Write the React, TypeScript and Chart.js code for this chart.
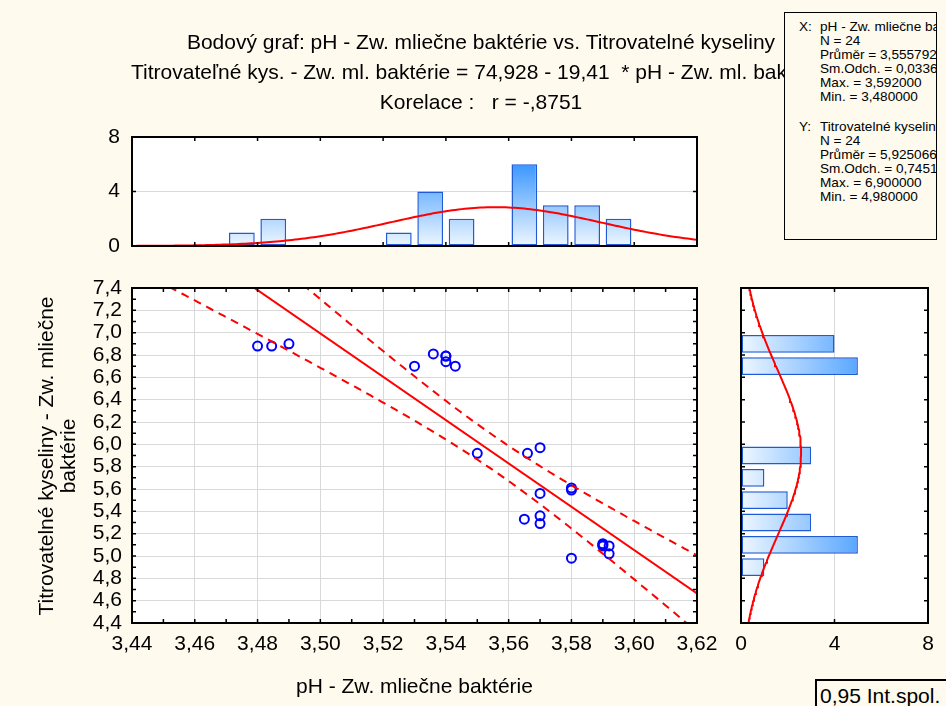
import React, { useEffect, useRef } from "react";
import { Chart, registerables } from "chart.js";

Chart.register(...registerables);

// ---------------- data ----------------
const phValues = [
  3.48, 3.4845, 3.49, 3.53, 3.536, 3.54, 3.54, 3.54, 3.543,
  3.55, 3.566, 3.57, 3.57, 3.565, 3.57, 3.57,
  3.58, 3.58, 3.58, 3.59, 3.59, 3.59, 3.592, 3.592,
];
const acidValues = [
  6.88, 6.88, 6.9, 6.7, 6.81, 6.79, 6.79, 6.74, 6.7,
  5.92, 5.92, 5.97, 5.56, 5.33, 5.36, 5.29,
  5.61, 5.59, 4.98, 5.11, 5.1, 5.09, 5.09, 5.02,
];
const phBinCenters = [3.475, 3.485, 3.525, 3.535, 3.545, 3.565, 3.575, 3.585, 3.595];
const phBinCounts = [1, 2, 1, 4, 2, 6, 3, 3, 2];
const acidBinCenters = [6.9, 6.7, 5.9, 5.7, 5.5, 5.3, 5.1, 4.9];
const acidBinCounts = [4, 5, 3, 1, 2, 3, 5, 1];

const phTicks = [3.44, 3.46, 3.48, 3.5, 3.52, 3.54, 3.56, 3.58, 3.6, 3.62];
const acidTicks = [4.4, 4.6, 4.8, 5.0, 5.2, 5.4, 5.6, 5.8, 6.0, 6.2, 6.4, 6.6, 6.8, 7.0, 7.2, 7.4];
const countTicks = [0, 4, 8];

// statistics printed in the chart
const N = 24;
const phMean = 3.555792;
const phSd = 0.0336;
const acidMean = 5.925066;
const acidSd = 0.7451;
const intercept = 74.928;
const slope = -19.41;
const corr = -0.8751;
const phBinWidth = 0.01;
const acidBinWidth = 0.2;
const tCrit = 2.074; // t(0.975, 22)

const titleLines = [
  "Bodový graf: pH - Zw. mliečne baktérie vs. Titrovatelné kyseliny",
  "Titrovateľné kys. - Zw. ml. baktérie = 74,928 - 19,41  * pH - Zw. ml. baktérie",
  "Korelace :   r = -,8751",
];
const xStatLines = ["pH - Zw. mliečne baktérie", "N = 24", "Průměr = 3,555792", "Sm.Odch. = 0,0336", "Max. = 3,592000", "Min. = 3,480000"];
const yStatLines = ["Titrovatelné kyseliny - Zw. mliečne baktérie", "N = 24", "Průměr = 5,925066", "Sm.Odch. = 0,7451", "Max. = 6,900000", "Min. = 4,980000"];
const xAxisTitle = "pH - Zw. mliečne baktérie";
const yAxisTitle = ["Titrovatelné kyseliny - Zw. mliečne", "baktérie"];
const legendText = "0,95 Int.spol.";

// ---------------- fitted curves ----------------
const normalCount = (v: number, mean: number, sd: number, binW: number) =>
  ((N * binW) / (sd * Math.sqrt(2 * Math.PI))) * Math.exp(-0.5 * ((v - mean) / sd) ** 2);

const phGrid: number[] = [];
for (let i = 0; i <= 180; i++) phGrid.push(3.44 + i * 0.001);
const acidGrid: number[] = [];
for (let i = 0; i <= 150; i++) acidGrid.push(4.4 + i * 0.02);

const Sxx = (N - 1) * phSd * phSd;
const sRes = acidSd * Math.sqrt(((1 - corr * corr) * (N - 1)) / (N - 2));
const fit = (x: number) => intercept + slope * x;
const band = (x: number, s: number) =>
  fit(x) + s * tCrit * sRes * Math.sqrt(1 / N + ((x - phMean) * (x - phMean)) / Sxx);

// ---------------- styling ----------------
const W = 946;
const H = 706;
const BG = "#fffaee";
const FONT = "'Liberation Sans', Arial, sans-serif";
const RED = "#ff0000";
const GRID = "#d9d9d9";
const BAR_BORDER = "#1f5bd6";
const tickFont = { family: FONT, size: 21 };

const minorX: number[] = [];
for (let i = 0; i <= 18; i++) minorX.push(3.44 + i * 0.01);
const minorY: number[] = [];
for (let i = 0; i <= 30; i++) minorY.push(4.4 + i * 0.1);

function framePlugin(id: string, xt: number[], yt: number[], len: number) {
  return {
    id,
    beforeDraw(chart: any) {
      const { ctx, chartArea: a } = chart;
      ctx.save();
      ctx.fillStyle = "#ffffff";
      ctx.fillRect(a.left, a.top, a.right - a.left, a.bottom - a.top);
      ctx.restore();
    },
    afterDraw(chart: any) {
      const { ctx, chartArea: a, scales } = chart;
      ctx.save();
      ctx.strokeStyle = "#000";
      ctx.lineWidth = 1.5;
      ctx.beginPath();
      for (const v of xt) {
        const p = scales.x.getPixelForValue(v);
        ctx.moveTo(p, a.bottom);
        ctx.lineTo(p, a.bottom - len);
        ctx.moveTo(p, a.top);
        ctx.lineTo(p, a.top + len);
      }
      for (const v of yt) {
        const p = scales.y.getPixelForValue(v);
        ctx.moveTo(a.left, p);
        ctx.lineTo(a.left + len, p);
        ctx.moveTo(a.right, p);
        ctx.lineTo(a.right - len, p);
      }
      ctx.stroke();
      ctx.lineWidth = 2;
      ctx.strokeRect(a.left, a.top, a.right - a.left, a.bottom - a.top);
      ctx.restore();
    },
  };
}

function gradient(vertical: boolean) {
  return (c: any) => {
    const a = c.chart.chartArea;
    if (!a) return "#9ccfff";
    const g = vertical
      ? c.chart.ctx.createLinearGradient(0, a.bottom, 0, a.top)
      : c.chart.ctx.createLinearGradient(a.left, 0, a.right, 0);
    g.addColorStop(0, "#eef7ff");
    g.addColorStop(1, "#0077ff");
    return g;
  };
}

const fmt = (d: number) => (v: any) => Number(v).toFixed(d).replace(".", ",");
const gridAt4 = (c: any) => (c.tick && c.tick.value === 4 ? GRID : "rgba(0,0,0,0)");

export default function App() {
  const scatterRef = useRef<HTMLCanvasElement>(null);
  const topRef = useRef<HTMLCanvasElement>(null);
  const rightRef = useRef<HTMLCanvasElement>(null);

  useEffect(() => {
    const base = {
      responsive: false,
      animation: false as const,
      devicePixelRatio: 1,
      events: [] as any[],
      plugins: { legend: { display: false }, tooltip: { enabled: false } },
    };

    // ---- main scatter ----
    const scatter = new Chart(scatterRef.current!, {
      type: "scatter",
      data: {
        datasets: [
          {
            type: "line",
            data: [3.44, 3.62].map((x) => ({ x, y: fit(x) })),
            borderColor: RED,
            borderWidth: 2,
            pointRadius: 0,
            order: 0,
          } as any,
          {
            type: "line",
            data: phGrid.map((x) => ({ x, y: band(x, 1) })),
            borderColor: RED,
            borderWidth: 2,
            borderDash: [8, 6],
            pointRadius: 0,
            order: 0,
          },
          {
            type: "line",
            data: phGrid.map((x) => ({ x, y: band(x, -1) })),
            borderColor: RED,
            borderWidth: 2,
            borderDash: [8, 6],
            pointRadius: 0,
            order: 0,
          },
          {
            type: "scatter",
            data: phValues.map((x, i) => ({ x, y: acidValues[i] })),
            pointRadius: 4.5,
            borderWidth: 2,
            borderColor: "#0000ff",
            backgroundColor: "rgba(0,0,0,0)",
            order: 1,
          },
        ],
      },
      options: {
        ...base,
        layout: { padding: { left: 0, top: 288, right: W - 697, bottom: 43 } },
        scales: {
          x: {
            type: "linear",
            min: 3.44,
            max: 3.62,
            afterBuildTicks: (s: any) => {
              s.ticks = phTicks.map((v) => ({ value: v }));
            },
            afterFit: (s: any) => {
              s.height = 40;
            },
            ticks: { font: tickFont, color: "#000", padding: 9, autoSkip: false, maxRotation: 0, callback: fmt(2) },
            grid: { color: GRID, drawTicks: false, lineWidth: 1 },
            border: { display: false },
          },
          y: {
            type: "linear",
            min: 4.4,
            max: 7.4,
            afterBuildTicks: (s: any) => {
              s.ticks = acidTicks.map((v) => ({ value: v }));
            },
            afterFit: (s: any) => {
              s.width = 132;
            },
            ticks: { font: tickFont, color: "#000", padding: 10, autoSkip: false, callback: fmt(1) },
            grid: { color: GRID, drawTicks: false, lineWidth: 1 },
            border: { display: false },
          },
        },
      } as any,
      plugins: [framePlugin("frameScatter", minorX, minorY, 4)],
    });

    // ---- top histogram ----
    const top = new Chart(topRef.current!, {
      type: "bar",
      data: {
        datasets: [
          {
            type: "line",
            data: phGrid.map((x) => ({ x, y: normalCount(x, phMean, phSd, phBinWidth) })),
            borderColor: RED,
            borderWidth: 2,
            pointRadius: 0,
            order: 0,
          } as any,
          {
            type: "bar",
            data: phBinCenters.map((c, i) => ({ x: c, y: phBinCounts[i] })),
            backgroundColor: gradient(true),
            borderColor: BAR_BORDER,
            borderWidth: 1.5,
            borderSkipped: false,
            barPercentage: 0.82,
            categoryPercentage: 1,
            order: 1,
          },
        ],
      },
      options: {
        ...base,
        layout: { padding: { left: 0, top: 137, right: W - 697, bottom: H - 246 } },
        scales: {
          x: { type: "linear", min: 3.44, max: 3.62, offset: false, display: false },
          y: {
            type: "linear",
            min: 0,
            max: 8,
            afterBuildTicks: (s: any) => {
              s.ticks = countTicks.map((v) => ({ value: v }));
            },
            afterFit: (s: any) => {
              s.width = 132;
            },
            ticks: { font: tickFont, color: "#000", padding: 12, autoSkip: false },
            grid: { color: gridAt4, drawTicks: false },
            border: { display: false },
          },
        },
      } as any,
      plugins: [framePlugin("frameTop", phTicks, countTicks, 4)],
    });

    // ---- right histogram ----
    const right = new Chart(rightRef.current!, {
      type: "bar",
      data: {
        datasets: [
          {
            type: "line",
            indexAxis: "y",
            data: acidGrid.map((y) => ({ x: normalCount(y, acidMean, acidSd, acidBinWidth), y })),
            borderColor: RED,
            borderWidth: 2,
            pointRadius: 0,
            order: 0,
          } as any,
          {
            type: "bar",
            data: acidBinCenters.map((c, i) => ({ x: acidBinCounts[i], y: c })),
            backgroundColor: gradient(false),
            borderColor: BAR_BORDER,
            borderWidth: 1.5,
            borderSkipped: false,
            barPercentage: 0.8,
            categoryPercentage: 1,
            order: 1,
          },
        ],
      },
      options: {
        ...base,
        indexAxis: "y",
        layout: { padding: { left: 741, top: 288, right: W - 928, bottom: 43 } },
        scales: {
          x: {
            type: "linear",
            min: 0,
            max: 8,
            afterBuildTicks: (s: any) => {
              s.ticks = countTicks.map((v) => ({ value: v }));
            },
            afterFit: (s: any) => {
              s.height = 40;
            },
            ticks: { font: tickFont, color: "#000", padding: 9, autoSkip: false, maxRotation: 0 },
            grid: { color: gridAt4, drawTicks: false },
            border: { display: false },
          },
          y: { type: "linear", min: 4.4, max: 7.4, offset: false, display: false },
        },
      } as any,
      plugins: [framePlugin("frameRight", countTicks, acidTicks, 4)],
    });

    return () => {
      scatter.destroy();
      top.destroy();
      right.destroy();
    };
  }, []);

  const canvasStyle: React.CSSProperties = { position: "absolute", left: 0, top: 0 };
  const txt = (extra: React.CSSProperties): React.CSSProperties => ({
    position: "absolute",
    fontSize: 21,
    lineHeight: "21px",
    whiteSpace: "pre",
    ...extra,
  });
  const statStyle = (topPx: number, leftPx: number): React.CSSProperties => ({
    position: "absolute",
    left: leftPx,
    top: topPx,
    fontSize: 13.6,
    lineHeight: "14px",
    whiteSpace: "pre",
  });

  return (
    <div
      style={{
        position: "fixed",
        left: 0,
        top: 0,
        width: W,
        height: H,
        background: BG,
        overflow: "hidden",
        fontFamily: FONT,
        color: "#000",
      }}
    >
      <canvas ref={topRef} width={W} height={H} style={canvasStyle} />
      <canvas ref={rightRef} width={W} height={H} style={canvasStyle} />
      <canvas ref={scatterRef} width={W} height={H} style={canvasStyle} />

      <div style={txt({ left: 481, top: 31, transform: "translateX(-50%)" })}>{titleLines[0]}</div>
      <div style={txt({ left: 131, top: 61 })}>{titleLines[1]}</div>
      <div style={txt({ left: 481, top: 91, transform: "translateX(-50%)" })}>{titleLines[2]}</div>

      <div style={txt({ left: 414.5, top: 675, transform: "translateX(-50%)" })}>{xAxisTitle}</div>
      <div
        style={{
          position: "absolute",
          left: 57 - 210,
          top: 455.5 - 22,
          width: 420,
          height: 44,
          fontSize: 21,
          lineHeight: "22px",
          textAlign: "center",
          whiteSpace: "pre",
          transform: "rotate(-90deg)",
        }}
      >
        {yAxisTitle[0]}
        {"\n"}
        {yAxisTitle[1]}
      </div>

      <div
        style={{
          position: "absolute",
          left: 784,
          top: 12,
          width: 153,
          height: 228,
          boxSizing: "border-box",
          border: "1px solid #000",
          background: BG,
          overflow: "hidden",
        }}
      >
        <div style={statStyle(7, 14)}>X:</div>
        <div style={statStyle(7, 35)}>{xStatLines.join("\n")}</div>
        <div style={statStyle(107, 14)}>Y:</div>
        <div style={statStyle(107, 35)}>{yStatLines.join("\n")}</div>
      </div>

      <div
        style={{
          position: "absolute",
          left: 815,
          top: 679,
          width: 200,
          height: 100,
          boxSizing: "border-box",
          border: "2px solid #000",
          background: BG,
        }}
      />
      <div style={txt({ left: 820, top: 685 })}>{legendText}</div>
    </div>
  );
}
